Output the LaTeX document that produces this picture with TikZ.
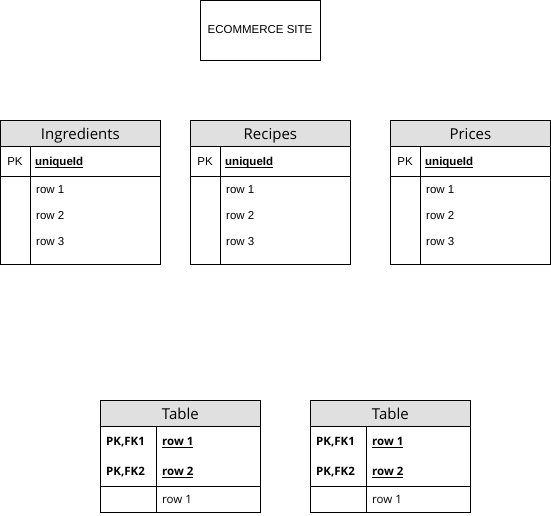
\documentclass[tikz,border=0pt]{standalone}
\usepackage{fontspec}
\setmainfont{Liberation Sans}
\newfontfamily\segoe{Open Sans}
% underline at a fixed distance below the baseline
\newcommand{\keyline}[1]{\setbox0\hbox{#1}\rlap{\vrule height -1.6pt depth 2.6pt width \wd0}\box0}
\begin{document}
\begin{tikzpicture}[x=1pt, y=-1pt]

% definitions
\tikzstyle{site} = [rectangle, draw=black, line width=0.8pt, minimum width=120pt, minimum height=60pt, inner sep=0pt, font=\fontsize{11.5pt}{13pt}\selectfont]

\tikzstyle{title} = [rectangle, draw=black, line width=0.8pt, fill=black!12, minimum width=160pt, minimum height=26pt, inner sep=0pt, text height=13pt, text depth=0pt, anchor=north west, font=\segoe\fontsize{15pt}{17pt}\selectfont]

\tikzstyle{cell} = [rectangle, draw=black, line width=0.8pt, inner sep=0pt, anchor=north west]

\tikzstyle{entry} = [inner sep=0pt, anchor=base west, font=\fontsize{11.5pt}{13pt}\selectfont]

\tikzstyle{keyentry} = [inner sep=0pt, anchor=base west, font=\segoe\fontsize{11.5pt}{13pt}\selectfont]

\useasboundingbox (0,0) rectangle (551,516);

% the site
\node (site) [site] at (260,30) {ECOMMERCE SITE};

% Ingredients
\node (ihead) [title] at (0,120) {Ingredients};
\node (ipk) [cell, minimum width=30pt, minimum height=30pt] at (0,146) {};
\node (ikey) [cell, minimum width=130pt, minimum height=30pt] at (30,146) {};
\node (iside) [cell, minimum width=30pt, minimum height=88pt] at (0,176) {};
\node (irows) [cell, minimum width=130pt, minimum height=88pt] at (30,176) {};
\node (ipklabel) [entry, anchor=base] at (15,165) {PK};
\node (iid) [entry] at (35,165) {\keyline{\textbf{uniqueId}}};
\node (irow1) [entry] at (36,193.5) {row 1};
\node (irow2) [entry] at (36,219.5) {row 2};
\node (irow3) [entry] at (36,245.5) {row 3};

% Recipes
\node (rhead) [title] at (190,120) {Recipes};
\node (rpk) [cell, minimum width=30pt, minimum height=30pt] at (190,146) {};
\node (rkey) [cell, minimum width=130pt, minimum height=30pt] at (220,146) {};
\node (rside) [cell, minimum width=30pt, minimum height=88pt] at (190,176) {};
\node (rrows) [cell, minimum width=130pt, minimum height=88pt] at (220,176) {};
\node (rpklabel) [entry, anchor=base] at (205,165) {PK};
\node (rid) [entry] at (225,165) {\keyline{\textbf{uniqueId}}};
\node (rrow1) [entry] at (226,193.5) {row 1};
\node (rrow2) [entry] at (226,219.5) {row 2};
\node (rrow3) [entry] at (226,245.5) {row 3};

% Prices
\node (phead) [title] at (390,120) {Prices};
\node (ppk) [cell, minimum width=30pt, minimum height=30pt] at (390,146) {};
\node (pkey) [cell, minimum width=130pt, minimum height=30pt] at (420,146) {};
\node (pside) [cell, minimum width=30pt, minimum height=88pt] at (390,176) {};
\node (prows) [cell, minimum width=130pt, minimum height=88pt] at (420,176) {};
\node (ppklabel) [entry, anchor=base] at (405,165) {PK};
\node (pid) [entry] at (425,165) {\keyline{\textbf{uniqueId}}};
\node (prow1) [entry] at (426,193.5) {row 1};
\node (prow2) [entry] at (426,219.5) {row 2};
\node (prow3) [entry] at (426,245.5) {row 3};

% first link table
\node (ahead) [title] at (100,400) {Table};
\node (akeys) [cell, minimum width=56pt, minimum height=60pt] at (100,426) {};
\node (anames) [cell, minimum width=104pt, minimum height=60pt] at (156,426) {};
\node (aside) [cell, minimum width=56pt, minimum height=26pt] at (100,486) {};
\node (arows) [cell, minimum width=104pt, minimum height=26pt] at (156,486) {};
\node (afk1) [keyentry] at (106,445) {\textbf{PK,FK1}};
\node (afk2) [keyentry] at (106,475.5) {\textbf{PK,FK2}};
\node (akey1) [keyentry] at (162,445) {\keyline{\textbf{row 1}}};
\node (akey2) [keyentry] at (162,475.5) {\keyline{\textbf{row 2}}};
\node (arow1) [keyentry] at (162,503.5) {row 1};

% second link table
\node (bhead) [title] at (310,400) {Table};
\node (bkeys) [cell, minimum width=56pt, minimum height=60pt] at (310,426) {};
\node (bnames) [cell, minimum width=104pt, minimum height=60pt] at (366,426) {};
\node (bside) [cell, minimum width=56pt, minimum height=26pt] at (310,486) {};
\node (brows) [cell, minimum width=104pt, minimum height=26pt] at (366,486) {};
\node (bfk1) [keyentry] at (316,445) {\textbf{PK,FK1}};
\node (bfk2) [keyentry] at (316,475.5) {\textbf{PK,FK2}};
\node (bkey1) [keyentry] at (372,445) {\keyline{\textbf{row 1}}};
\node (bkey2) [keyentry] at (372,475.5) {\keyline{\textbf{row 2}}};
\node (brow1) [keyentry] at (372,503.5) {row 1};

\end{tikzpicture}
\end{document}
